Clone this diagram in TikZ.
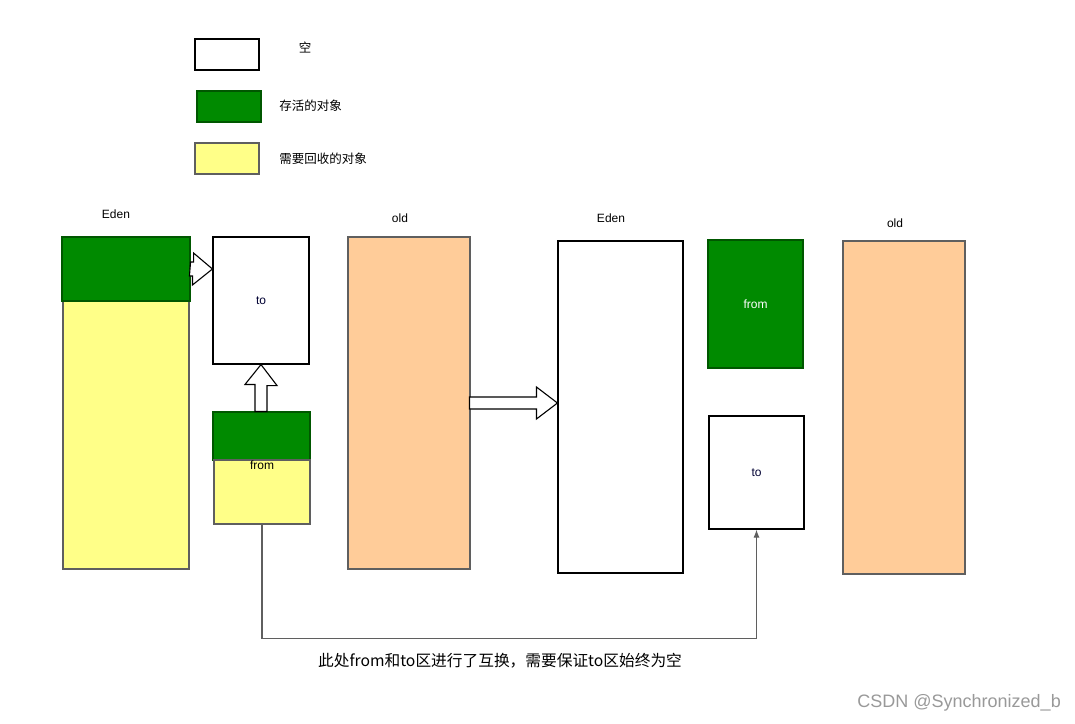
\documentclass[tikz,border=0pt]{standalone}
\usepackage{fontspec}
\setmainfont{Liberation Sans}
\newfontfamily\cjk{Noto Sans CJK SC}
\usepackage{tikz}
\usetikzlibrary{arrows.meta,calc}
\definecolor{LiveGreen}{HTML}{008A00}
\definecolor{LiveEdge}{HTML}{005700}
\definecolor{DeadYellow}{HTML}{FFFF88}
\definecolor{OldOrange}{HTML}{FFCC99}
\definecolor{EdgeGray}{HTML}{5F5F5F}
\tikzset{
    emptybox/.style={draw=black, line width=1.1pt, fill=white, inner sep=0pt, font=\fontsize{12}{14}\selectfont},
    livebox/.style={draw=LiveEdge, line width=1.1pt, fill=LiveGreen, inner sep=0pt, font=\fontsize{12}{14}\selectfont, text=white},
    deadbox/.style={draw=EdgeGray, line width=1.1pt, fill=DeadYellow, inner sep=0pt},
    oldbox/.style={draw=EdgeGray, line width=1.1pt, fill=OldOrange, inner sep=0pt},
    lbl/.style={inner sep=1pt, font=\fontsize{12}{14}\selectfont},
    cnlbl/.style={inner sep=1pt, font=\cjk\fontsize{12.5}{14}\selectfont},
    hollowarr/.style={draw=black, line width=1.1pt, fill=white, line join=miter},
    linkarr/.style={-{Latex[length=8pt,width=6pt]}, draw=EdgeGray, line width=1.1pt},
}
\begin{document}
\begin{tikzpicture}[x=1pt, y=-1pt]
\useasboundingbox (0,0) rectangle (1075,723);

% legend
\node[emptybox, minimum width=64pt, minimum height=31pt] (legempty) at (227,54.5) {};
\node[livebox, minimum width=64pt, minimum height=31pt] (leglive) at (229,106.5) {};
\node[deadbox, minimum width=64pt, minimum height=31pt] (legdead) at (227,158.5) {};
\node[cnlbl] (legemptytxt) at (305,47) {空};
\node[cnlbl] (leglivetxt) at (310.5,105.5) {存活的对象};
\node[cnlbl] (legdeadtxt) at (323,158.5) {需要回收的对象};

% before the gc
\node[lbl] (edenlbl) at (116,214) {Eden};
\node[deadbox, minimum width=126pt, minimum height=268pt] (edendead) at (126,435) {};
\node[livebox, minimum width=128pt, minimum height=64pt] (edenlive) at (126,269) {};
\node[emptybox, minimum width=96pt, minimum height=127pt, text=black!80!blue] (to1) at (261,300.5) {to};
\node[livebox, minimum width=97pt, minimum height=48pt] (fromlive) at (261.5,436) {};
\node[deadbox, minimum width=96pt, minimum height=64pt] (fromdead) at (262,492) {};
\node[lbl, anchor=north] (fromtxt) at (fromdead.north) {from};
\node[lbl] (old1lbl) at (400,218) {old};
\node[oldbox, minimum width=122pt, minimum height=332pt] (old1) at (409,403) {};

% after the gc
\node[lbl] (eden2lbl) at (611,218) {Eden};
\node[emptybox, minimum width=125pt, minimum height=332pt] (eden2) at (620.5,407) {};
\node[livebox, minimum width=95pt, minimum height=128pt] (from2) at (755.5,304) {from};
\node[emptybox, minimum width=95pt, minimum height=113pt, text=black!80!blue] (to2) at (756.5,472.5) {to};
\node[lbl] (old2lbl) at (895,223) {old};
\node[oldbox, minimum width=122pt, minimum height=333pt] (old2) at (904,407.5) {};

% hollow arrows
\draw[hollowarr] ($(edenlive.east)+(0,-7)$) -- ++(3,0) -- ++(0,-9)
    -- (edenlive.east -| to1.west) -- ++(-20,16) -- ++(0,-9) -- ++(-3,0) -- cycle;
\draw[hollowarr] (to1.south) -- ++(16,21) -- ++(-10,0) -- (fromlive.north -| 267,0)
    -- (fromlive.north -| 255,0) -- ++(0,-27) -- ++(-10,0) -- cycle;
\draw[hollowarr] (old1.east -| eden2.west) -- ++(-21,16) -- ++(0,-10) -- ++(-67,0)
    -- ++(0,-12) -- ++(67,0) -- ++(0,-10) -- cycle;

% swap of from and to
\draw[linkarr] (fromdead.south) -- ++(0,114) -| (to2.south);
\node[inner sep=1pt, font=\cjk\fontsize{15.7}{18}\selectfont] (note) at (500,661) {此处from和to区进行了互换，需要保证to区始终为空};

\node[inner sep=0pt, anchor=east, text=black!40, font=\fontsize{18}{20}\selectfont] (mark) at (1061,703) {CSDN @Synchronized\_b};
\end{tikzpicture}
\end{document}
